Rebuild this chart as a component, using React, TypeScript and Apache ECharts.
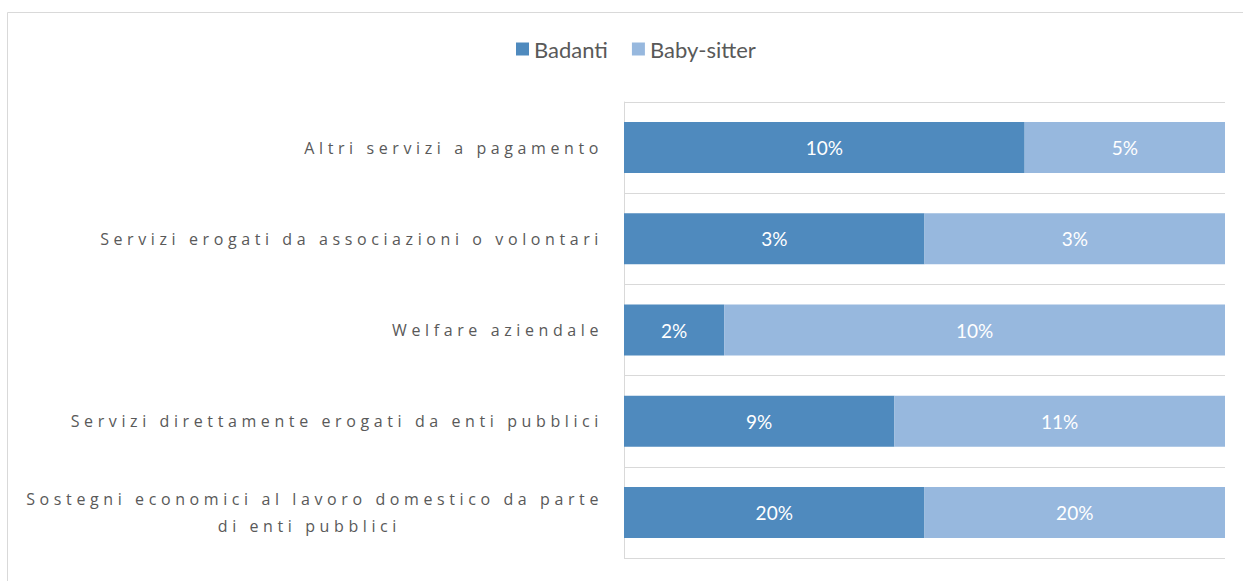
import React, { useEffect, useRef } from "react";
import * as echarts from "echarts";

const categories = [
  "Altri servizi a pagamento",
  "Servizi erogati da associazioni o volontari",
  "Welfare aziendale",
  "Servizi direttamente erogati da enti pubblici",
  "Sostegni economici al lavoro domestico da parte di enti pubblici",
];
const badanti = [10, 3, 2, 9, 20];
const babySitter = [5, 3, 10, 11, 20];

const FONT = "Lato";
const CAT_FONT = "Open Sans";

export default function App() {
  const ref = useRef<HTMLDivElement>(null);
  useEffect(() => {
    if (!ref.current) return;
    const chart = echarts.init(ref.current, undefined, { renderer: "svg" });
    const totals = categories.map((_, i) => badanti[i] + babySitter[i]);
    const mk = (vals: number[]) =>
      vals.map((v, i) => ({ value: v / totals[i], raw: v }));
    const labelCfg = {
      show: true,
      position: "inside",
      color: "#ffffff",
      fontFamily: FONT,
      fontSize: 19,
      formatter: (p: any) => p.data.raw + "%",
    };
    chart.setOption({
      animation: false,
      legend: {
        top: 38,
        left: 516,
        padding: 0,
        itemWidth: 13,
        itemHeight: 13,
        itemGap: 24,
        icon: "rect",
        textStyle: { color: "#595959", fontSize: 22, fontFamily: FONT },
        data: ["Badanti", "Baby-sitter"],
      },
      grid: { left: 624, right: 18, top: 102, bottom: 23 },
      xAxis: {
        type: "value",
        min: 0,
        max: 1,
        show: false,
        splitLine: { show: false },
      },
      yAxis: {
        type: "category",
        inverse: true,
        data: categories,
        axisTick: { show: false },
        axisLine: { show: true, lineStyle: { color: "#d9d9d9", width: 1 } },
        splitLine: { show: true, lineStyle: { color: "#d9d9d9", width: 1 } },
        axisLabel: {
          margin: 21,
          color: "#595959",
          fontFamily: CAT_FONT,
          fontSize: 16,
          formatter: (v: string) =>
            v.startsWith("Sostegni")
              ? "{a|Sostegni economici al lavoro domestico da parte}\n{b|di enti pubblici}"
              : v,
          rich: {
            a: { color: "#595959", fontFamily: CAT_FONT, fontSize: 16, lineHeight: 27 },
            b: { color: "#595959", fontFamily: CAT_FONT, fontSize: 16, lineHeight: 27, padding: [0, 202, 0, 0] },
          },
        },
      },
      series: [
        {
          name: "Badanti",
          type: "bar",
          stack: "s",
          barWidth: 51,
          itemStyle: { color: "#4f8abe" },
          label: labelCfg,
          data: mk(badanti),
        },
        {
          name: "Baby-sitter",
          type: "bar",
          stack: "s",
          barWidth: 51,
          itemStyle: { color: "#97b8de" },
          label: labelCfg,
          data: mk(babySitter),
        },
      ],
      graphic: [
        {
          type: "rect",
          shape: { x: 7.5, y: 12.5, width: 1300, height: 700 },
          style: { fill: "none", stroke: "#d9d9d9", lineWidth: 1 },
          silent: true,
          z: -10,
        },
      ],
    });
    const applySpacing = () => {
      const texts = ref.current?.querySelectorAll("text") || [];
      texts.forEach((t: any) => {
        const c = (t.textContent || "").trim();
        if (
          categories.some((k) => k.includes(c)) && c.length > 0 &&
          !c.endsWith("%")
        ) {
          if (c === "Badanti" || c === "Baby-sitter") return;
          t.style.letterSpacing = "4.6px";
        }
      });
    };
    applySpacing();
    chart.on("finished", applySpacing);
    return () => chart.dispose();
  }, []);
  return <div ref={ref} style={{ width: 1243, height: 581, position: "absolute", left: 0, top: 0 }} />;
}
